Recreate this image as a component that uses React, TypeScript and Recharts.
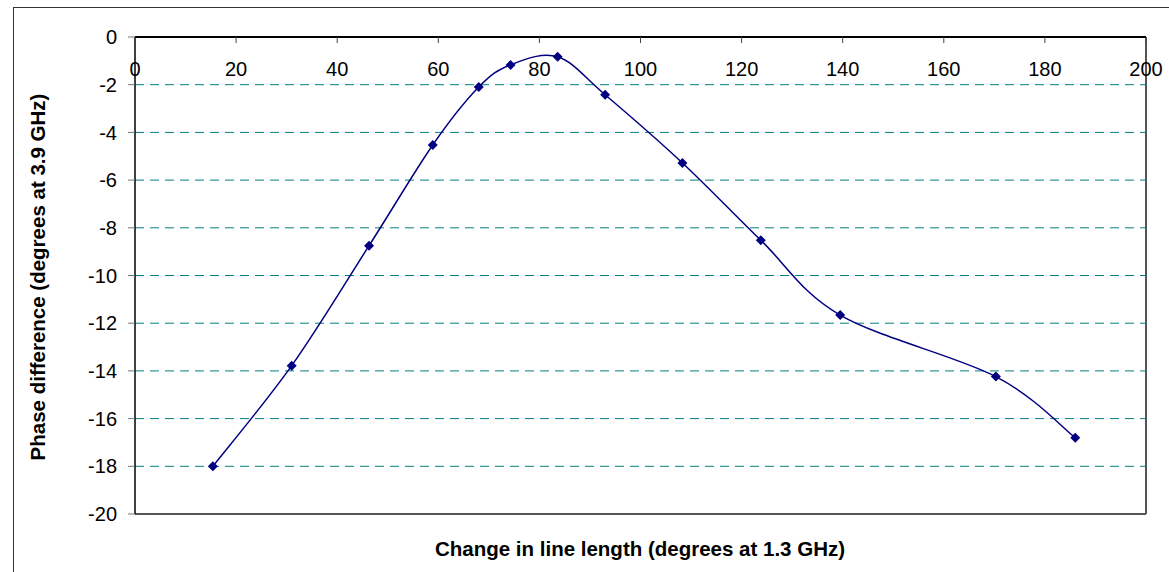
import {
  LineChart,
  Line,
  XAxis,
  YAxis,
  CartesianGrid,
  ReferenceLine,
} from "recharts";

// change in line length (deg at 1.3 GHz)
const lengthChange = [15.4, 31.0, 46.3, 58.9, 68.0, 74.3, 83.6, 93.0, 108.3, 123.8, 139.5, 170.3, 186.0];
// phase difference (deg at 3.9 GHz)
const phaseDiff = [-18.0, -13.78, -8.75, -4.53, -2.1, -1.17, -0.83, -2.42, -5.28, -8.52, -11.66, -14.24, -16.8];

const xTicks = [0, 20, 40, 60, 80, 100, 120, 140, 160, 180, 200];
const yTicks = [-20, -18, -16, -14, -12, -10, -8, -6, -4, -2, 0];

const data = lengthChange.map((x, i) => ({ x, y: phaseDiff[i] }));

const FONT = "'Liberation Sans', Arial, sans-serif";

// Excel-style smoothing (Catmull-Rom through the points)
const excelCurve = (context: any) => {
  let pts: number[][] = [];
  return {
    areaStart() {},
    areaEnd() {},
    lineStart() {
      pts = [];
    },
    point(x: number, y: number) {
      pts.push([+x, +y]);
    },
    lineEnd() {
      const n = pts.length;
      if (!n) return;
      context.moveTo(pts[0][0], pts[0][1]);
      for (let i = 0; i < n - 1; i++) {
        const p0 = pts[Math.max(i - 1, 0)];
        const p1 = pts[i];
        const p2 = pts[i + 1];
        const p3 = pts[Math.min(i + 2, n - 1)];
        context.bezierCurveTo(
          p1[0] + (p2[0] - p0[0]) / 6,
          p1[1] + (p2[1] - p0[1]) / 6,
          p2[0] - (p3[0] - p1[0]) / 6,
          p2[1] - (p3[1] - p1[1]) / 6,
          p2[0],
          p2[1]
        );
      }
    },
  };
};

const TopTick = (props: any) => {
  const { x, y, payload } = props;
  return (
    <g>
      <line x1={x} y1={y} x2={x} y2={y + 6} stroke="#444" />
      <text x={x} y={y + 39} textAnchor="middle" fontSize={20} fill="#000" fontFamily={FONT}>
        {payload.value}
      </text>
    </g>
  );
};

const Diamond = (props: any) => {
  const { cx, cy, index } = props;
  if (cx == null || cy == null) return <g key={index} />;
  const s = 5;
  return (
    <polygon
      key={index}
      points={`${cx},${cy - s} ${cx + s},${cy} ${cx},${cy + s} ${cx - s},${cy}`}
      fill="#000080"
    />
  );
};

export default function App() {
  return (
    <div
      style={{
        position: "absolute",
        left: 0,
        top: 0,
        width: 1169,
        height: 572,
        overflow: "hidden",
        background: "#fff",
        fontFamily: FONT,
      }}
    >
      <div
        style={{
          position: "absolute",
          left: 13,
          top: 7,
          width: 1300,
          height: 700,
          border: "1px solid #333",
        }}
      />
      <div style={{ position: "absolute", left: 0, top: 0 }}>
        <LineChart
          width={1169}
          height={572}
          data={data}
          margin={{ top: 7, right: 23, bottom: 58, left: 15 }}
          style={{ fontFamily: FONT }}
        >
          <CartesianGrid
            vertical={false}
            stroke="#008080"
            strokeDasharray="9 6"
          />
          <XAxis
            dataKey="x"
            type="number"
            orientation="top"
            height={30}
            domain={[0, 200]}
            ticks={xTicks}
            tickSize={0}
            tickMargin={0}
            tick={<TopTick />}
            axisLine={{ stroke: "#000", strokeWidth: 2 }}
            tickLine={false}
            interval={0}
          />
          <YAxis
            type="number"
            width={120}
            domain={[-20, 0]}
            ticks={yTicks}
            tickSize={7}
            tickMargin={11}
            tick={{ fontSize: 20, fill: "#000", fontFamily: FONT }}
            tickLine={{ stroke: "#777" }}
            axisLine={{ stroke: "#000", strokeWidth: 1.5 }}
            interval={0}
          />
          <ReferenceLine y={-20} stroke="#555" strokeWidth={2} />
          <ReferenceLine x={200} stroke="#555" strokeWidth={2} />
          <Line
            dataKey="y"
            type={excelCurve as any}
            stroke="#000080"
            strokeWidth={1.5}
            dot={<Diamond />}
            activeDot={false}
            isAnimationActive={false}
          />
        </LineChart>
      </div>
      <div
        style={{
          position: "absolute",
          left: 640,
          top: 549,
          transform: "translate(-50%, -50%)",
          whiteSpace: "nowrap",
          fontSize: 20.5,
          fontWeight: "bold",
          lineHeight: "20px",
        }}
      >
        Change in line length (degrees at 1.3 GHz)
      </div>
      <div
        style={{
          position: "absolute",
          left: 38,
          top: 277,
          transform: "translate(-50%, -50%) rotate(-90deg)",
          whiteSpace: "nowrap",
          fontSize: 20.5,
          fontWeight: "bold",
          lineHeight: "20px",
        }}
      >
        Phase difference (degrees at 3.9 GHz)
      </div>
    </div>
  );
}
